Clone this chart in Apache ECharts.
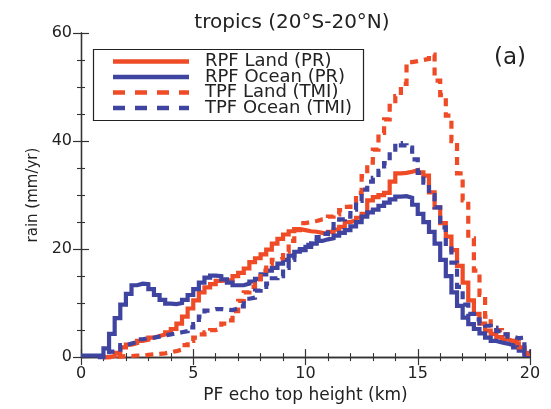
<!DOCTYPE html>
<html>
<head>
<meta charset="utf-8">
<script src="https://cdn.jsdelivr.net/npm/echarts@6/dist/echarts.min.js"></script>
<style>
  html, body { margin: 0; padding: 0; background: #fff; }
  #chart { width: 551px; height: 409px; }
</style>
</head>
<body>
<div id="chart"></div>
<script>
// ---- data (bin width 0.25 km, 80 bins from 0 to 20 km) ----
const binWidth = 0.25;
const xTicks = [0, 5, 10, 15, 20];
const yTicks = [0, 20, 40, 60];
const seriesNames = ['RPF Land (PR)', 'RPF Ocean (PR)', 'TPF Land (TMI)', 'TPF Ocean (TMI)'];

const rpfLand = [
  null, null, null, null, 0, 0.2, 0.8, 1.8, 2.3, 2.6,
  3.0, 3.2, 3.6, 3.9, 4.2, 4.6, 5.2, 6.2, 7.5, 9.0,
  10.5, 12.0, 12.9, 13.5, 14.1, 14.2, 14.2, 15.0, 15.6, 16.4,
  17.6, 18.3, 19.0, 19.9, 21.0, 21.9, 22.7, 23.3, 23.7, 23.5,
  23.3, 23.2, 23.0, 22.8, 23.2, 23.6, 24.1, 25.0, 25.3, 25.8,
  26.5, 29.0, 29.6, 30.0, 30.4, 32.5, 34.0, 34.1, 34.3, 34.6,
  34.2, 33.6, 30.5, 27.7, 24.8, 22.3, 19.8, 16.9, 13.8, 10.5,
  8.0, 6.2, 4.9, 4.3, 3.7, 3.3, 3.0, 2.5, 1.6, 0.8
];
const rpfOcean = [
  0.3, 0.3, 0.3, 0.4, 1.6, 4.3, 7.2, 9.7, 11.7, 13.3,
  13.6, 13.5, 12.6, 11.5, 10.6, 9.9, 9.8, 10.0, 10.6, 11.5,
  12.6, 13.8, 14.7, 15.1, 15.0, 14.4, 13.8, 13.3, 13.3, 13.6,
  14.0, 14.5, 15.3, 16.0, 16.5, 17.3, 18.0, 18.8, 19.5, 20.0,
  20.4, 21.0, 21.5, 21.8, 22.0, 22.5, 23.0, 23.5, 24.2, 25.0,
  26.0, 26.8, 27.3, 28.0, 28.6, 29.2, 29.7, 29.8, 29.5, 28.2,
  26.5, 25.0, 23.2, 21.0, 18.0, 15.0, 12.0, 9.5, 7.3, 6.1,
  5.2, 4.4, 3.6, 3.0, 2.7, 2.5, 2.2, 1.8, 1.2, 0.4
];
const tpfLand = [
  null, null, null, null, 0, 0, 0.1, 0.2, 0.2, 0.3,
  0.3, 0.4, 0.5, 0.6, 0.7, 0.9, 1.1, 1.4, 2.2, 3.0,
  3.6, 4.2, 4.6, 5.0, 5.3, 6.2, 6.8, 8.5, 10.4, 12.0,
  13.0, 14.4, 16.0, 17.2, 18.0, 18.3, 19.5, 21.5, 23.5, 24.8,
  25.0, 25.2, 25.5, 25.6, 26.0, 26.4, 27.2, 27.8, 28.6, 30.4,
  33.5, 36.0, 38.4, 41.5, 44.0, 46.5, 48.3, 50.6, 54.6, 54.8,
  55.0, 55.2, 56.0, 51.2, 48.5, 44.7, 40.0, 34.0, 29.0, 22.0,
  16.0, 11.5, 7.5, 5.4, 5.0, 4.2, 3.4, 3.0, 1.8, 0.6
];
const tpfOcean = [
  null, null, null, 0, 0.5, 1.0, 1.4, 2.2, 2.5, 2.8,
  3.3, 3.5, 3.6, 3.8, 4.0, 4.2, 4.4, 4.6, 4.8, 5.5,
  6.1, 7.5, 8.6, 8.9, 8.9, 8.8, 8.7, 9.0, 9.4, 10.8,
  11.0, 12.3, 13.0, 13.6, 14.6, 15.0, 16.5, 18.0, 18.9, 19.8,
  20.8, 21.6, 22.2, 22.8, 23.5, 25.0, 25.5, 26.0, 27.3, 28.9,
  31.0, 32.5, 33.2, 34.5, 35.9, 38.0, 39.6, 39.2, 38.8, 36.6,
  34.1, 32.3, 30.0, 27.7, 24.0, 20.5, 17.5, 13.0, 9.7, 8.0,
  7.0, 6.3, 5.8, 5.4, 4.8, 4.2, 3.8, 3.5, 3.6, 1.0
];

const RED = '#EE4B26';
const BLUE = '#3E44A0';
const FONT = 'DejaVu Sans, Liberation Sans, sans-serif';
const TXT = '#222';

// legend glyphs (line samples)
const ICON_SOLID = 'path://M0,0H76V4.5H0Z';
const ICON_DASH = 'path://M0,0H12V4.5H0Z M22,0H34V4.5H22Z M44,0H56V4.5H44Z M66,0H76V4.5H66Z';
const legendIcons = [ICON_SOLID, ICON_SOLID, ICON_DASH, ICON_DASH];
const legendColors = [RED, BLUE, RED, BLUE];
const legendTops = [52.5, 68, 83.5, 99];

function toPairs(vals) {
  const out = vals.map((v, i) => [i * binWidth, v]);
  out.push([vals.length * binWidth, vals[vals.length - 1]]);
  return out;
}

function mkSeries(name, vals, color, dashed) {
  return {
    name: name,
    type: 'line',
    step: 'end',
    data: toPairs(vals),
    symbol: 'none',
    clip: false,
    connectNulls: false,
    lineStyle: { color: color, width: 4.2, type: dashed ? [8, 6] : 'solid', cap: 'butt', join: 'miter' },
    itemStyle: { color: color },
    emphasis: { disabled: true },
    animation: false
  };
}

const axisCommon = {
  type: 'value',
  axisLine: { show: true, lineStyle: { color: '#333', width: 1.3 } },
  axisTick: { show: true, inside: true, length: 8, lineStyle: { color: '#333', width: 1.2 } },
  minorTick: { show: true, length: 4, lineStyle: { color: '#333', width: 1.1 } },
  splitLine: { show: false },
  minorSplitLine: { show: false }
};

const legends = seriesNames.map((n, i) => ({
  orient: 'vertical',
  left: 93, top: legendTops[i],
  data: [{ name: n, icon: legendIcons[i], itemStyle: { color: legendColors[i] } }],
  itemWidth: 76, itemHeight: 4.5, itemGap: 0,
  padding: [0, 0, 0, 20],
  textStyle: { fontFamily: FONT, fontSize: 18, color: TXT, padding: [0, 0, 0, 11] },
  selectedMode: false
}));

const chart = echarts.init(document.getElementById('chart'), null, { renderer: 'canvas' });
chart.setOption({
  backgroundColor: '#ffffff',
  animation: false,
  title: [
    { text: 'tropics (20°S-20°N)', left: 287, top: 8, textAlign: 'center',
      textStyle: { fontFamily: FONT, fontSize: 20, fontWeight: 'normal', color: TXT } },
    { text: '(a)', left: 489, top: 42,
      textStyle: { fontFamily: FONT, fontSize: 23, fontWeight: 'normal', color: TXT } }
  ],
  graphic: [{
    type: 'rect', z: 10, silent: true,
    shape: { x: 93.5, y: 49.5, width: 270, height: 71 },
    style: { fill: 'none', stroke: '#222', lineWidth: 1.2 }
  }],
  grid: { left: 81, right: 21, top: 33, bottom: 42, containLabel: false },
  legend: legends,
  xAxis: [
    Object.assign({}, axisCommon, {
      min: 0, max: 20, interval: 5, position: 'bottom',
      minorTick: Object.assign({}, axisCommon.minorTick, { splitNumber: 5 }),
      axisLabel: { show: true, fontFamily: FONT, fontSize: 16, color: TXT, margin: 9,
        formatter: v => (xTicks.indexOf(v) >= 0 ? String(v) : '') },
      name: 'PF echo top height (km)', nameLocation: 'middle', nameGap: 27,
      nameTextStyle: { fontFamily: FONT, fontSize: 17, color: TXT }
    }),
    Object.assign({}, axisCommon, {
      min: 0, max: 20, interval: 5, position: 'top',
      minorTick: Object.assign({}, axisCommon.minorTick, { splitNumber: 5 }),
      axisLabel: { show: false }
    })
  ],
  yAxis: [
    Object.assign({}, axisCommon, {
      min: 0, max: 60, interval: 20, position: 'left',
      minorTick: Object.assign({}, axisCommon.minorTick, { splitNumber: 4 }),
      axisLabel: { show: true, fontFamily: FONT, fontSize: 16, color: TXT, margin: 9,
        formatter: v => (yTicks.indexOf(v) >= 0 ? String(v) : '') },
      name: 'rain (mm/yr)', nameLocation: 'middle', nameGap: 38, nameRotate: 90,
      nameTextStyle: { fontFamily: FONT, fontSize: 15, color: TXT }
    }),
    Object.assign({}, axisCommon, {
      min: 0, max: 60, interval: 20, position: 'right',
      minorTick: Object.assign({}, axisCommon.minorTick, { splitNumber: 4 }),
      axisLabel: { show: false }
    })
  ],
  series: [
    mkSeries(seriesNames[0], rpfLand, RED, false),
    mkSeries(seriesNames[1], rpfOcean, BLUE, false),
    mkSeries(seriesNames[2], tpfLand, RED, true),
    mkSeries(seriesNames[3], tpfOcean, BLUE, true)
  ]
});
</script>
</body>
</html>
